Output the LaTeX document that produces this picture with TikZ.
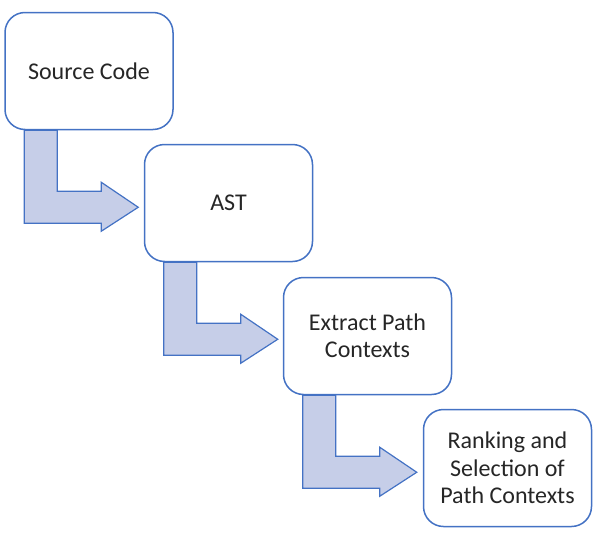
\documentclass[tikz,border=0pt]{standalone}
\usepackage{fontspec}
\setmainfont{Carlito}
\usetikzlibrary{calc,backgrounds}
\definecolor{boxblue}{RGB}{68,114,196}
\definecolor{arrowfill}{RGB}{198,206,232}
\tikzset{
  stepbox/.style={draw=boxblue, fill=white, line width=1.5pt, rounded corners=20pt,
    minimum width=168pt, minimum height=117pt, align=center, inner sep=0pt,
    font=\fontsize{24}{27.5}\selectfont, text=black!85},
  bentarrow/.style={draw=boxblue, fill=arrowfill, line width=1.2pt, line join=miter}
}
\newcommand{\bentarr}[2]{%
  \begin{pgfonlayer}{background}
  \draw[bentarrow] let \p1=(#1.south west) in
    (\x1+20pt,\y1) -- (\x1+20pt,\y1-93pt) -- (\x1+97pt,\y1-93pt) -- (\x1+97pt,\y1-101pt)
    -- (\x1+134pt,\y1-77pt) -- (\x1+97pt,\y1-52pt) -- (\x1+97pt,\y1-61pt)
    -- (\x1+53pt,\y1-61pt) -- (\x1+53pt,\y1) -- cycle;
  \end{pgfonlayer}}
\begin{document}
\begin{tikzpicture}[x=1pt,y=-1pt]
\useasboundingbox (0,0) rectangle (600,533);
\node[stepbox] (src) at (89,71) {Source Code};
\node[stepbox] (ast) at (228.5,203) {AST};
\node[stepbox] (ext) at (367.5,336) {Extract Path\\Contexts};
\node[stepbox] (rank) at (507.5,468) {Ranking and\\Selection of\\Path Contexts};
\bentarr{src}{ast}
\bentarr{ast}{ext}
\bentarr{ext}{rank}
\end{tikzpicture}
\end{document}
